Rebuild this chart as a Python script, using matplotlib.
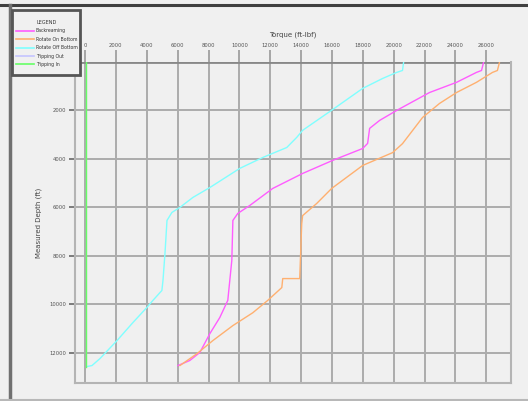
import matplotlib
matplotlib.use("Agg")
import matplotlib.pyplot as plt
from matplotlib.lines import Line2D
from matplotlib.patches import Rectangle

# torque (ft-lbf) against measured depth (ft) for each operation
backream_torque = [6020, 6790, 7440, 8090, 8730, 9250, 9510, 9580, 9900, 10680,
                   12160, 14100, 16050, 17990, 18310, 18440, 19090, 20190, 22320,
                   24070, 25360, 25690, 25820]
backream_depth = [12530, 12320, 11990, 11210, 10550, 9840, 8190, 6540, 6250, 5920,
                  5220, 4600, 4060, 3570, 3360, 2740, 2410, 2000, 1260,
                  840, 430, 350, 20]

rob_torque = [6150, 7250, 8280, 9580, 10870, 11840, 12750, 12810, 13910, 14040,
              14100, 15010, 15980, 17990, 19930, 20570, 21220, 21870, 22970,
              24070, 25360, 26400, 26720, 26850]
rob_depth = [12530, 12040, 11500, 10880, 10350, 9840, 9310, 8940, 8940, 6670,
             6340, 5840, 5220, 4270, 3740, 3370, 2830, 2290, 1710,
             1260, 840, 430, 350, 20]

roffb_torque = [130, 450, 970, 2070, 3110, 4010, 4400, 4980, 5050, 5180, 5310,
                5630, 6150, 6990, 8090, 10030, 11520, 13070, 13720, 14100,
                16050, 17990, 19280, 20190, 20570, 20640]
roffb_depth = [12570, 12530, 12240, 11500, 10750, 10130, 9840, 9430, 9020, 7900, 6540,
               6210, 6000, 5590, 5180, 4390, 3940, 3530, 3110, 2820,
               1960, 1090, 680, 430, 350, 20]

trip_out_torque = []
trip_out_depth = []

trip_in_torque = [60, 60]
trip_in_depth = [0, 12570]

labels = ["Backreaming", "Rotate On Bottom", "Rotate Off Bottom", "Tripping Out", "Tripping In"]
colors = ["#ff5cff", "#ffb070", "#80ffff", "#c4c4ff", "#66ff66"]

bg = "#f0f0f0"
fig = plt.figure(figsize=(5.28, 4.01), dpi=100, facecolor=bg)
ax = fig.add_axes([75 / 528, 1 - 383 / 401, 436 / 528, 321 / 401], facecolor=bg)

series = [(backream_torque, backream_depth), (rob_torque, rob_depth),
          (roffb_torque, roffb_depth), (trip_out_torque, trip_out_depth),
          (trip_in_torque, trip_in_depth)]
for (t, d), c, lab in zip(series, colors, labels):
    ax.plot(t, d, color=c, lw=1.0, label=lab, zorder=3)

ax.set_xlim(-650, 27600)
ax.set_ylim(13250, 0)
ax.xaxis.tick_top()
ax.xaxis.set_label_position("top")
ax.set_xticks(range(0, 26001, 2000))
ax.set_yticks(range(2000, 12001, 2000))
ax.tick_params(axis="x", length=8.6, width=1.2, color="#999999", pad=1.5,
               labelsize=3.8, labelcolor="#555555")
ax.tick_params(axis="y", length=4.3, width=1.2, color="#666666", pad=2,
               labelsize=3.8, labelcolor="#555555")
ax.set_xlabel("Torque (ft-lbf)", fontsize=5, color="#444444", labelpad=5)
ax.set_ylabel("Measured Depth (ft)", fontsize=5, color="#444444", labelpad=5)

ax.grid(True, color="#acacac", lw=1.4, zorder=1)
ax.axhline(0, color="#888888", lw=2, zorder=2)
for s in ["left", "right", "bottom"]:
    ax.spines[s].set_color("#b4b4b4")
    ax.spines[s].set_linewidth(1.5)
ax.spines["top"].set_visible(False)

# outer frame of the panel
fig.add_artist(Line2D([0, 1], [1 - 5 / 401] * 2, color="#404040", lw=2.2))
fig.add_artist(Line2D([9.5 / 528] * 2, [0, 1 - 5 / 401], color="#707070", lw=2.5))
fig.add_artist(Line2D([0, 1], [1.5 / 401] * 2, color="#b8b8b8", lw=1.5))

# legend box
fig.add_artist(Rectangle((12 / 528, 1 - 75 / 401), 68 / 528, 65 / 401,
                         facecolor=bg, edgecolor="#555555", lw=2, zorder=5))
handles = [Line2D([], [], color=c, lw=1.2) for c in colors]
leg = fig.legend(handles, labels, loc="upper left",
                 bbox_to_anchor=(14 / 528, 1 - 18 / 401), frameon=False,
                 title="LEGEND", title_fontsize=3.5, fontsize=3.3,
                 handlelength=4, handletextpad=0.4, labelspacing=0.75,
                 borderaxespad=0)
leg.set_zorder(6)
for txt in leg.get_texts():
    txt.set_color("#333333")
leg.get_title().set_color("#333333")

fig.savefig("out.png", dpi=100, facecolor=bg)
